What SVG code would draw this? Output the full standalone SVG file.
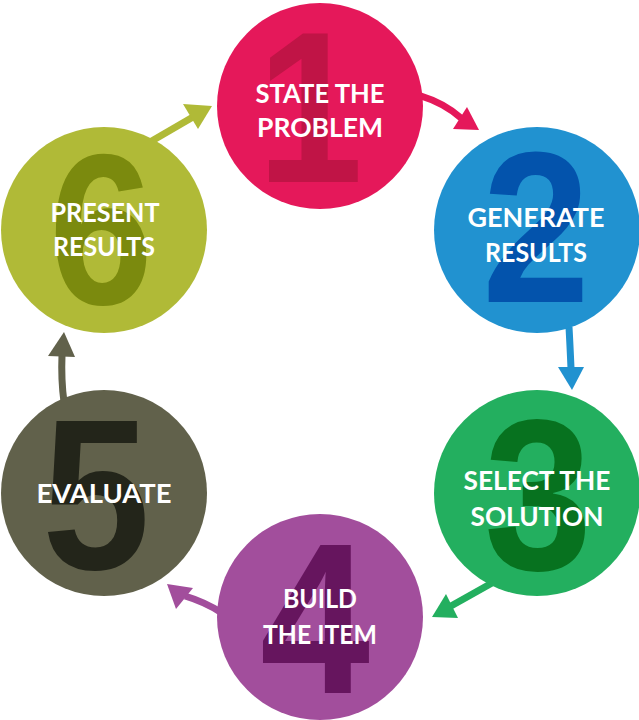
<svg xmlns="http://www.w3.org/2000/svg" width="639" height="720" viewBox="0 0 639 720">
<style>
.lbl{font-family:"Lato","Liberation Sans",sans-serif;font-weight:700;font-size:27px;fill:#ffffff;text-anchor:middle}
.num{font-family:"Liberation Sans","Arial",sans-serif;font-weight:700;font-size:215px;text-anchor:middle}
.shaft{fill:none;stroke-width:7;stroke-linecap:butt}
</style>
<rect width="639" height="720" fill="#ffffff"/>
<g id="connectors">
  <g id="c1-2"><path class="shaft" d="M421,96 Q444,103 461,118" stroke="#E5185A"/><polygon points="479,130 453,129 467,107" fill="#E5185A"/></g>
  <g id="c2-3"><path class="shaft" d="M569,327 Q570,345 571,368" stroke="#2192D0"/><polygon points="572,390 558,367 584,367" fill="#2192D0"/></g>
  <g id="c3-4"><path class="shaft" d="M492,583 L451,606" stroke="#23AF5F"/><polygon points="432,617 446,594 458,618" fill="#23AF5F"/></g>
  <g id="c4-5"><path class="shaft" d="M222,613 Q205,602 185,596" stroke="#A24E9C"/><polygon points="167,584 193,588 176,609" fill="#A24E9C"/></g>
  <g id="c5-6"><path class="shaft" d="M64,402 Q61,380 62,355" stroke="#61614B"/><polygon points="64,332 48,356 75,357" fill="#61614B"/></g>
  <g id="c6-1"><path class="shaft" d="M150,142 L193,117" stroke="#B0BA37"/><polygon points="212,106 183,104 198,129" fill="#B0BA37"/></g>
</g>
<g id="n1">
  <circle cx="320" cy="106" r="103" fill="#E5185A"/>
  <text class="num" x="310" y="182" fill="#C01446" textLength="106" lengthAdjust="spacingAndGlyphs">1</text>
  <text class="lbl" x="320" y="103" textLength="129" lengthAdjust="spacingAndGlyphs">STATE THE</text>
  <text class="lbl" x="320" y="137" textLength="126" lengthAdjust="spacingAndGlyphs">PROBLEM</text>
</g>
<g id="n2">
  <circle cx="537" cy="230" r="103" fill="#2192D0"/>
  <text class="num" x="536" y="302" fill="#0353AC" textLength="108" lengthAdjust="spacingAndGlyphs">2</text>
  <text class="lbl" x="536" y="227" textLength="137" lengthAdjust="spacingAndGlyphs">GENERATE</text>
  <text class="lbl" x="536" y="262" textLength="102" lengthAdjust="spacingAndGlyphs">RESULTS</text>
</g>
<g id="n3">
  <circle cx="537" cy="493" r="103" fill="#23AF5F"/>
  <text class="num" x="538" y="570" fill="#07721F" textLength="108" lengthAdjust="spacingAndGlyphs">3</text>
  <text class="lbl" x="537" y="490" textLength="147" lengthAdjust="spacingAndGlyphs">SELECT THE</text>
  <text class="lbl" x="537" y="526" textLength="133" lengthAdjust="spacingAndGlyphs">SOLUTION</text>
</g>
<g id="n4">
  <circle cx="320" cy="617" r="103" fill="#A24E9C"/>
  <text class="num" x="315" y="693" fill="#66155E" textLength="110" lengthAdjust="spacingAndGlyphs">4</text>
  <text class="lbl" x="320" y="608" textLength="74" lengthAdjust="spacingAndGlyphs">BUILD</text>
  <text class="lbl" x="320" y="644" textLength="114" lengthAdjust="spacingAndGlyphs">THE ITEM</text>
</g>
<g id="n5">
  <circle cx="104" cy="493" r="103" fill="#61614B"/>
  <text class="num" x="96" y="569" fill="#23251A" textLength="108" lengthAdjust="spacingAndGlyphs">5</text>
  <text class="lbl" x="104" y="503" textLength="135" lengthAdjust="spacingAndGlyphs">EVALUATE</text>
</g>
<g id="n6">
  <circle cx="104" cy="230" r="103" fill="#B0BA37"/>
  <text class="num" x="101" y="304" fill="#7B8A0E" textLength="104" lengthAdjust="spacingAndGlyphs">6</text>
  <text class="lbl" x="105" y="222" textLength="109" lengthAdjust="spacingAndGlyphs">PRESENT</text>
  <text class="lbl" x="104" y="256" textLength="102" lengthAdjust="spacingAndGlyphs">RESULTS</text>
</g>
</svg>
